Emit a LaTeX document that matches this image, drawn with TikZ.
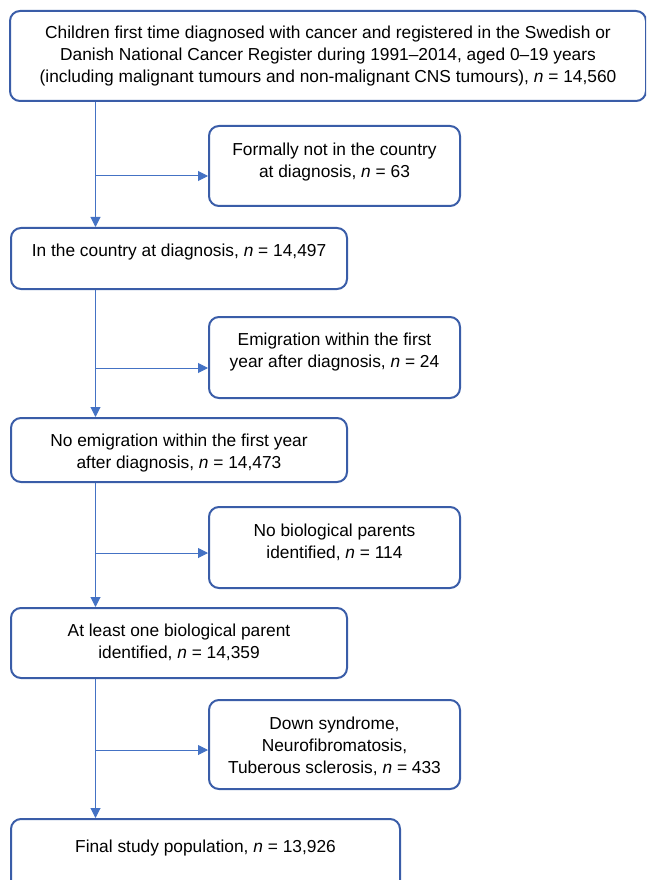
\documentclass[tikz,border=0pt]{standalone}
\usepackage{fontspec}
\setmainfont{Liberation Sans}
\usetikzlibrary{positioning, arrows.meta}
\definecolor{edgeblue}{HTML}{3A5DA8}
\definecolor{lineblue}{HTML}{4472C4}
\newdimen\pxu \pxu=0.75pt

\begin{document}
\begin{tikzpicture}[
        x=0.75pt, y=-0.75pt,
        font=\fontsize{13pt}{16.5pt}\selectfont,
        wbox/.style n args={3}{draw=edgeblue, line width=1.5pt, rounded corners=7.5pt,
                           inner sep=0pt, anchor=north west,
                           execute at begin node={\begin{minipage}[t][#2\pxu][t]{#1\pxu}\centering\vspace*{#3\pxu}},
                           execute at end node={\end{minipage}}},
        arr/.style       ={-{Triangle[length=7.5pt,width=7.5pt]}, line width=0.75pt, draw=lineblue, fill=lineblue}
    ]
      \path[use as bounding box, clip] (0,0) rectangle (646,880);

      % ===== MAIN COLUMN =====
      \node[wbox={636}{90}{15}]  (pop)     at (9,10)   {Children first time diagnosed with cancer and registered in the Swedish or\\
                                                         Danish National Cancer Register during 1991–2014, aged 0–19 years\\
                                                         (including malignant tumours and non-malignant CNS tumours), \textit{n} = 14,560};
      \node[wbox={336}{61}{16}]  (country) at (10,227)  {In the country at diagnosis, \textit{n} = 14,497};
      \node[wbox={336}{64}{16}]  (noemig)  at (10,417)  {No emigration within the first year\\
                                                         after diagnosis, \textit{n} = 14,473};
      \node[wbox={336}{70}{16}]  (parent)  at (10,607)  {At least one biological parent\\
                                                         identified, \textit{n} = 14,359};
      \node[wbox={389}{80}{21}]  (final)   at (10,818)  {Final study population, \textit{n} = 13,926};

      % ===== EXCLUSIONS =====
      \node[wbox={251}{80}{17}]  (formal)  at (208,125) {Formally not in the country\\
                                                         at diagnosis, \textit{n} = 63};
      \node[wbox={251}{81}{16}]  (emig)    at (208,316) {Emigration within the first\\
                                                         year after diagnosis, \textit{n} = 24};
      \node[wbox={251}{81}{17}]  (nobio)   at (208,506) {No biological parents\\
                                                         identified, \textit{n} = 114};
      \node[wbox={251}{89}{17}]  (down)    at (208,699) {Down syndrome,\\
                                                         Neurofibromatosis,\\
                                                         Tuberous sclerosis, \textit{n} = 433};

      % spine and branch points
      \coordinate (spine) at (95.5,0);
      \coordinate (b1)    at (95.5,176);
      \coordinate (b2)    at (95.5,368);
      \coordinate (b3)    at (95.5,553);
      \coordinate (b4)    at (95.5,750);

      \draw[arr] (pop.south -| spine)     -- (country.north -| spine);
      \draw[arr] (country.south -| spine) -- (noemig.north -| spine);
      \draw[arr] (noemig.south -| spine)  -- (parent.north -| spine);
      \draw[arr] (parent.south -| spine)  -- (final.north -| spine);

      \draw[arr] (b1) -- (b1 -| formal.west);
      \draw[arr] (b2) -- (b2 -| emig.west);
      \draw[arr] (b3) -- (b3 -| nobio.west);
      \draw[arr] (b4) -- (b4 -| down.west);
    \end{tikzpicture}
\end{document}
